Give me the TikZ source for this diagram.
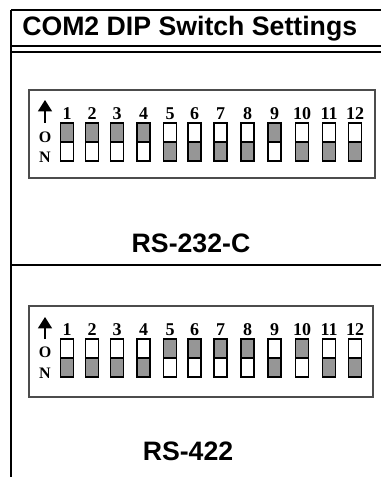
\documentclass[tikz,border=0pt]{standalone}
\usepackage{fontspec}
\setmainfont{Liberation Serif}
\newfontfamily\headfont{Liberation Sans}
\usetikzlibrary{arrows.meta}
\definecolor{swgray}{RGB}{150,150,150}
\tikzset{
  sw/.style={draw, line width=1pt, minimum width=9.75pt, minimum height=28.5pt, inner sep=0pt, label distance=0pt},
  swup/.style={sw, path picture={\fill[swgray] (path picture bounding box.north west) rectangle (path picture bounding box.east);
    \draw[line width=1pt] (path picture bounding box.west) -- (path picture bounding box.east);}},
  swdn/.style={sw, path picture={\fill[swgray] (path picture bounding box.south west) rectangle (path picture bounding box.east);
    \draw[line width=1pt] (path picture bounding box.west) -- (path picture bounding box.east);}},
  digit/.style={font=\fontsize{13.5}{15}\selectfont\bfseries, inner sep=1.6pt},
  onoff/.style={font=\fontsize{12}{13}\selectfont\bfseries, inner sep=0pt},
  dipbox/.style={draw=black!70, line width=1pt, inner sep=0pt},
  rule/.style={line width=1.6pt},
  heading/.style={font=\headfont\bfseries\fontsize{20}{24}\selectfont, inner sep=0pt}
}
\begin{document}
\begin{tikzpicture}[x=0.75pt, y=-0.75pt]
\useasboundingbox (0,0) rectangle (381,477);
% table frame
\coordinate (tl) at (11,10);
\coordinate (tr) at (381,10);
\coordinate (bl) at (11,477);
\coordinate (ha) at (11,46);
\coordinate (hae) at (381,46);
\coordinate (hb) at (11,52);
\coordinate (hbe) at (381,52);
\coordinate (mid) at (11,265);
\coordinate (mide) at (381,265);
\draw[rule](tl) -- (tr);
\draw[rule](tl) -- (bl);
\draw[rule](ha) -- (hae);
\draw[rule](hb) -- (hbe);
\draw[rule](mid) -- (mide);
\node[heading, anchor=base west] (title) at (22,36) {COM2 DIP Switch Settings};

% RS-232-C
\node[dipbox, minimum width=259.5pt, minimum height=66pt] (dipa) at (202,134) {};
\coordinate (arra0) at (45,123);
\coordinate (arra1) at (45,100);
\draw[line width=1pt, -{Triangle[width=10.5pt, length=8.5pt]}](arra0) -- (arra1);
\node[onoff] (oa) at (45,137) {O};
\node[onoff] (na) at (45,157) {N};
\node[swup, label={[digit]above:1}] (sa1) at (67,142) {};
\node[swup, label={[digit]above:2}] (sa2) at (92,142) {};
\node[swup, label={[digit]above:3}] (sa3) at (117,142) {};
\node[swup, label={[digit]above:4}] (sa4) at (143.5,142) {};
\node[swdn, label={[digit]above:5}] (sa5) at (170,142) {};
\node[swdn, label={[digit]above:6}] (sa6) at (194.5,142) {};
\node[swdn, label={[digit]above:7}] (sa7) at (220.5,142) {};
\node[swdn, label={[digit]above:8}] (sa8) at (247.5,142) {};
\node[swup, label={[digit]above:9}] (sa9) at (274.5,142) {};
\node[swdn, label={[digit]above:10}] (sa10) at (302,142) {};
\node[swdn, label={[digit]above:11}] (sa11) at (329,142) {};
\node[swdn, label={[digit]above:12}] (sa12) at (355,142) {};
\node[heading, anchor=base] (rs232) at (191,252) {RS-232-C};

% RS-422
\node[dipbox, minimum width=258pt, minimum height=68.25pt] (dipb) at (201,351.5) {};
\coordinate (arrb0) at (45,339);
\coordinate (arrb1) at (45,317);
\draw[line width=1pt, -{Triangle[width=10.5pt, length=8.5pt]}](arrb0) -- (arrb1);
\node[onoff] (ob) at (45,352.5) {O};
\node[onoff] (nb) at (45,373) {N};
\node[swdn, label={[digit]above:1}] (sb1) at (67,358) {};
\node[swdn, label={[digit]above:2}] (sb2) at (92,358) {};
\node[swdn, label={[digit]above:3}] (sb3) at (117,358) {};
\node[swdn, label={[digit]above:4}] (sb4) at (143.5,358) {};
\node[swup, label={[digit]above:5}] (sb5) at (170,358) {};
\node[swup, label={[digit]above:6}] (sb6) at (194.5,358) {};
\node[swup, label={[digit]above:7}] (sb7) at (220.5,358) {};
\node[swup, label={[digit]above:8}] (sb8) at (247.5,358) {};
\node[swdn, label={[digit]above:9}] (sb9) at (274.5,358) {};
\node[swup, label={[digit]above:10}] (sb10) at (302,358) {};
\node[swdn, label={[digit]above:11}] (sb11) at (329,358) {};
\node[swdn, label={[digit]above:12}] (sb12) at (355,358) {};
\node[heading, anchor=base] (rs422) at (188,460) {RS-422};
\end{tikzpicture}
\end{document}
